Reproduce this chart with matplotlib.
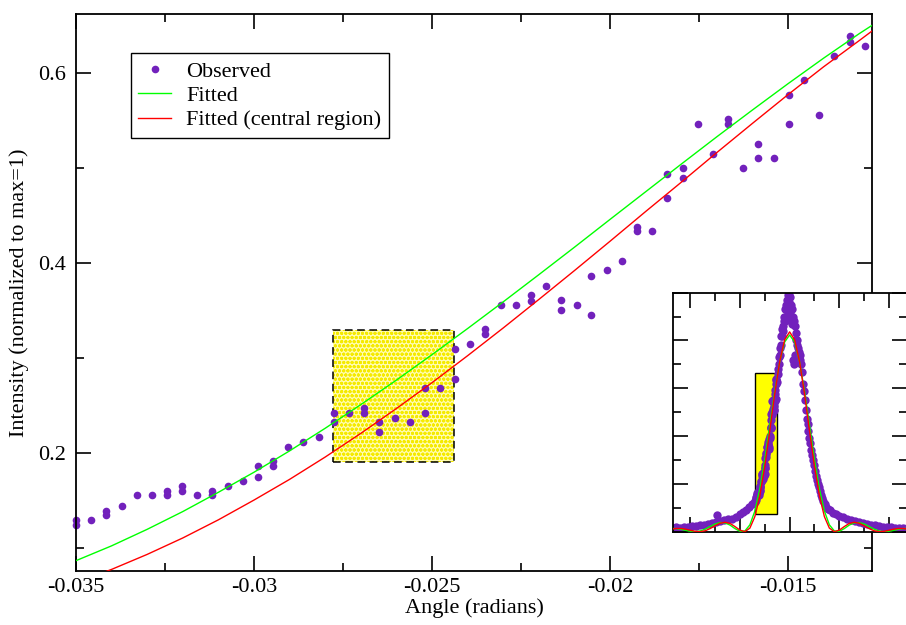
import matplotlib
matplotlib.use('Agg')
import matplotlib.pyplot as plt
from matplotlib.patches import Rectangle
from matplotlib.ticker import MultipleLocator, FuncFormatter

# observed points (main window)
obs_x = [-0.03500, -0.03500, -0.03457, -0.03415, -0.03415, -0.03372, -0.03330, -0.03287,
         -0.03244, -0.03244, -0.03202, -0.03202, -0.03159, -0.03117, -0.03117, -0.03074,
         -0.03031, -0.02989, -0.02989, -0.02946, -0.02946, -0.02904, -0.02861, -0.02818,
         -0.02776, -0.02776, -0.02733, -0.02691, -0.02691, -0.02648, -0.02648, -0.02605,
         -0.02563, -0.02520, -0.02520, -0.02478, -0.02435, -0.02435, -0.02392, -0.02350,
         -0.02350, -0.02307, -0.02265, -0.02222, -0.02222, -0.02179, -0.02137, -0.02137,
         -0.02094, -0.02052, -0.02052, -0.02009, -0.01966, -0.01924, -0.01924, -0.01881,
         -0.01839, -0.01839, -0.01796, -0.01796, -0.01753, -0.01711, -0.01668, -0.01668,
         -0.01626, -0.01583, -0.01583, -0.01540, -0.01498, -0.01498, -0.01455, -0.01413,
         -0.01370, -0.01327, -0.01327, -0.01285]
obs_y = [0.129, 0.124, 0.129, 0.139, 0.134, 0.144, 0.155, 0.155,
         0.160, 0.155, 0.165, 0.160, 0.155, 0.160, 0.155, 0.165,
         0.170, 0.186, 0.175, 0.191, 0.186, 0.206, 0.211, 0.217,
         0.242, 0.232, 0.242, 0.247, 0.242, 0.232, 0.222, 0.237,
         0.232, 0.268, 0.242, 0.268, 0.309, 0.278, 0.314, 0.330,
         0.325, 0.356, 0.356, 0.366, 0.360, 0.376, 0.361, 0.350,
         0.356, 0.386, 0.345, 0.392, 0.402, 0.438, 0.433, 0.433,
         0.494, 0.468, 0.500, 0.489, 0.546, 0.515, 0.551, 0.546,
         0.500, 0.525, 0.510, 0.510, 0.577, 0.546, 0.592, 0.556,
         0.618, 0.639, 0.633, 0.628]

# fitted curves in the main window
fit_x = [-0.035, -0.034, -0.033, -0.032, -0.031, -0.030, -0.029, -0.028, -0.027, -0.026,
         -0.025, -0.024, -0.023, -0.022, -0.021, -0.020, -0.019, -0.018, -0.017, -0.016,
         -0.015, -0.014, -0.013, -0.0126]
fit_green = [0.0864, 0.1020, 0.1194, 0.1381, 0.1584, 0.1795, 0.2020, 0.2258, 0.2507, 0.2765,
             0.3033, 0.3308, 0.3589, 0.3875, 0.4164, 0.4457, 0.4748, 0.5039, 0.5327, 0.5609,
             0.5886, 0.6155, 0.6413, 0.6510]
fit_red = [0.0630, 0.0772, 0.0930, 0.1103, 0.1294, 0.1502, 0.1720, 0.1955, 0.2204, 0.2466,
           0.2738, 0.3022, 0.3314, 0.3614, 0.3918, 0.4227, 0.4540, 0.4848, 0.5161, 0.5468,
           0.5771, 0.6064, 0.6340, 0.6452]

# extra observed points that only show in the inset
inset_x = [-0.118, -0.114, -0.110, -0.106, -0.102, -0.098, -0.094, -0.090, -0.086, -0.082,
           -0.078, -0.074, -0.073, -0.070, -0.066, -0.062, -0.058, -0.054, -0.050, -0.047,
           -0.044, -0.041, -0.038,
           -0.012, -0.012, -0.011, -0.011, -0.010, -0.010, -0.009, -0.009, -0.008, -0.008,
           -0.007, -0.007, -0.006, -0.006, -0.005, -0.005, -0.004, -0.004, -0.003, -0.003,
           -0.002, -0.002, -0.001, -0.001, 0.000, 0.000, 0.001, 0.001, 0.002, 0.002,
           0.003, 0.003, 0.004, 0.004, 0.005, 0.005, 0.006, 0.006, 0.007, 0.007,
           0.008, 0.009, 0.010, 0.010, 0.011, 0.012, 0.013, 0.014, 0.015, 0.016,
           0.017, 0.018, 0.019, 0.020, 0.021, 0.022, 0.023, 0.024, 0.025, 0.026,
           0.027, 0.028, 0.029, 0.030, 0.031, 0.032, 0.033, 0.034, 0.0355, 0.037,
           0.039, 0.041, 0.044, 0.047, 0.050, 0.054, 0.058, 0.062, 0.066, 0.070,
           0.074, 0.078, 0.082, 0.086, 0.090, 0.094, 0.098, 0.102, 0.106, 0.110,
           0.114, 0.118]
inset_y = [0.015, 0.018, 0.016, 0.020, 0.018, 0.022, 0.024, 0.027, 0.030, 0.033,
           0.036, 0.040, 0.070, 0.043, 0.047, 0.051, 0.055, 0.060, 0.072, 0.082,
           0.092, 0.103, 0.114,
           0.66, 0.68, 0.70, 0.73, 0.74, 0.77, 0.78, 0.82, 0.82, 0.85,
           0.86, 0.84, 0.88, 0.90, 0.88, 0.93, 0.90, 0.95, 0.97, 0.93,
           0.99, 0.91, 0.99, 0.96, 0.98, 0.92, 0.95, 0.88, 0.93, 0.87,
           0.90, 0.72, 0.88, 0.70, 0.86, 0.74, 0.83, 0.80, 0.80, 0.78,
           0.77, 0.75, 0.74, 0.72, 0.70, 0.67, 0.62, 0.59, 0.55, 0.51,
           0.47, 0.45, 0.42, 0.39, 0.37, 0.34, 0.32, 0.30, 0.28, 0.255,
           0.235, 0.215, 0.200, 0.185, 0.170, 0.155, 0.140, 0.128, 0.115, 0.105,
           0.097, 0.090, 0.080, 0.072, 0.065, 0.060, 0.055, 0.050, 0.046, 0.042,
           0.038, 0.034, 0.030, 0.027, 0.024, 0.021, 0.020, 0.018, 0.017, 0.016,
           0.015, 0.014]

# fitted curves over the whole inset range
wide_x = [-0.120, -0.115, -0.110, -0.105, -0.100, -0.095, -0.090, -0.085, -0.080, -0.075,
          -0.070, -0.065, -0.060, -0.055, -0.050, -0.045, -0.040, -0.035, -0.030, -0.025,
          -0.020, -0.015, -0.010, -0.005, 0.000, 0.005, 0.010, 0.015, 0.020, 0.025,
          0.030, 0.035, 0.040, 0.045, 0.050, 0.055, 0.060, 0.065, 0.070, 0.075,
          0.080, 0.085, 0.090, 0.095, 0.100, 0.105, 0.110, 0.115, 0.120]
wide_green = [0.0132, 0.0133, 0.0105, 0.0058, 0.0016, 0.0000, 0.0030, 0.0109, 0.0219, 0.0323,
              0.0384, 0.0368, 0.0276, 0.0129, 0.0016, 0.0032, 0.0287, 0.0864, 0.1795, 0.3033,
              0.4457, 0.5886, 0.7111, 0.7937, 0.8230, 0.7937, 0.7111, 0.5886, 0.4457, 0.3033,
              0.1795, 0.0864, 0.0287, 0.0032, 0.0016, 0.0129, 0.0276, 0.0368, 0.0384, 0.0323,
              0.0219, 0.0109, 0.0030, 0.0000, 0.0016, 0.0058, 0.0105, 0.0133, 0.0132]
wide_red = [0.0101, 0.0132, 0.0137, 0.0109, 0.0060, 0.0015, 0.0001, 0.0039, 0.0130, 0.0248,
            0.0352, 0.0395, 0.0345, 0.0214, 0.0065, 0.0001, 0.0150, 0.0630, 0.1502, 0.2738,
            0.4227, 0.5771, 0.7114, 0.8034, 0.8360, 0.8034, 0.7114, 0.5771, 0.4227, 0.2738,
            0.1502, 0.0630, 0.0150, 0.0001, 0.0065, 0.0214, 0.0345, 0.0395, 0.0352, 0.0248,
            0.0130, 0.0039, 0.0001, 0.0015, 0.0060, 0.0109, 0.0137, 0.0132, 0.0101]

# highlighted region in the main window
box_x = [-0.02777, -0.02438]
box_y = [0.1905, 0.3292]

purple = '#7221bc'

plt.rcParams['font.family'] = ['Liberation Serif', 'DejaVu Serif']
plt.rcParams['axes.unicode_minus'] = False
plt.rcParams['hatch.linewidth'] = 1.0

fig = plt.figure(figsize=(9.06, 6.25), dpi=100)
ax = fig.add_axes([0.0839, 0.0864, 0.8786, 0.8912])

ax.add_patch(Rectangle((box_x[0], box_y[0]), box_x[1] - box_x[0], box_y[1] - box_y[0],
                       facecolor='#fffcb0', edgecolor='#f5ea00', hatch='oooo', lw=0, zorder=1))
ax.add_patch(Rectangle((box_x[0], box_y[0]), box_x[1] - box_x[0], box_y[1] - box_y[0],
                       fill=False, edgecolor='black', lw=1.1, ls=(0, (5, 3)), zorder=1.5))

ax.plot(obs_x, obs_y, 'o', color=purple, ms=5.5, mew=0, label='Observed', zorder=2, clip_on=False)
ax.plot(fit_x, fit_green, color='#00ff00', lw=1.0, label='Fitted', zorder=3)
ax.plot(fit_x, fit_red, color='#ff0000', lw=1.0, label='Fitted (central region)', zorder=3)

ax.set_xlim(-0.035, -0.01264)
ax.set_ylim(0.0755, 0.662)
ax.xaxis.set_major_locator(MultipleLocator(0.005))
ax.xaxis.set_minor_locator(MultipleLocator(0.0025))
ax.yaxis.set_major_locator(MultipleLocator(0.2))
ax.yaxis.set_minor_locator(MultipleLocator(0.1))
ax.xaxis.set_major_formatter(FuncFormatter(lambda v, p: f'{v:g}'))
ax.yaxis.set_major_formatter(FuncFormatter(lambda v, p: f'{v:g}'))
ax.tick_params(which='both', direction='in', top=True, right=True, width=1.2, labelsize=16)
ax.tick_params(which='major', length=10.5)
ax.tick_params(which='minor', length=5.5)
ax.tick_params(axis='x', pad=5)
ax.tick_params(axis='y', pad=7)
for s in ax.spines.values():
    s.set_linewidth(1.3)

ax.set_xlabel('Angle (radians)', fontsize=16, labelpad=1)
ax.set_ylabel('Intensity (normalized to max=1)', fontsize=16, labelpad=7)

leg = ax.legend(loc='upper left', bbox_to_anchor=(0.0687, 0.9294), borderaxespad=0,
                fontsize=16, numpoints=1, handlelength=1.45, handletextpad=0.7,
                borderpad=0.35, labelspacing=0.17, fancybox=False, framealpha=1,
                edgecolor='black')
leg.get_frame().set_linewidth(1.0)

# inset with the full peak
ins = fig.add_axes([0.7425, 0.1493, 0.2581, 0.3824])
x0, x1 = ax.get_xlim()
y0, y1 = ax.get_ylim()
ins.add_patch(Rectangle((x0, y0), x1 - x0, y1 - y0, facecolor='#ffff00',
                        edgecolor='black', lw=1.0, zorder=1))
ins.plot(inset_x + obs_x, inset_y + obs_y, 'o', color=purple, ms=6, mew=0, zorder=2)
ins.plot(wide_x, wide_green, color='#00ff00', lw=1.0, zorder=3)
ins.plot(wide_x, wide_red, color='#ff0000', lw=1.0, zorder=3)
ins.set_xlim(-0.1177, 0.1177)
ins.set_ylim(0, 1.0)
ins.xaxis.set_major_locator(MultipleLocator(0.05))
ins.xaxis.set_minor_locator(MultipleLocator(0.025))
ins.yaxis.set_major_locator(MultipleLocator(0.2))
ins.yaxis.set_minor_locator(MultipleLocator(0.1))
ins.tick_params(which='both', direction='in', top=True, right=True, width=1.2,
                labelbottom=False, labelleft=False)
ins.tick_params(which='major', length=10.5)
ins.tick_params(which='minor', length=5.5)
for s in ins.spines.values():
    s.set_linewidth(1.3)

fig.savefig('out.png', dpi=100)
